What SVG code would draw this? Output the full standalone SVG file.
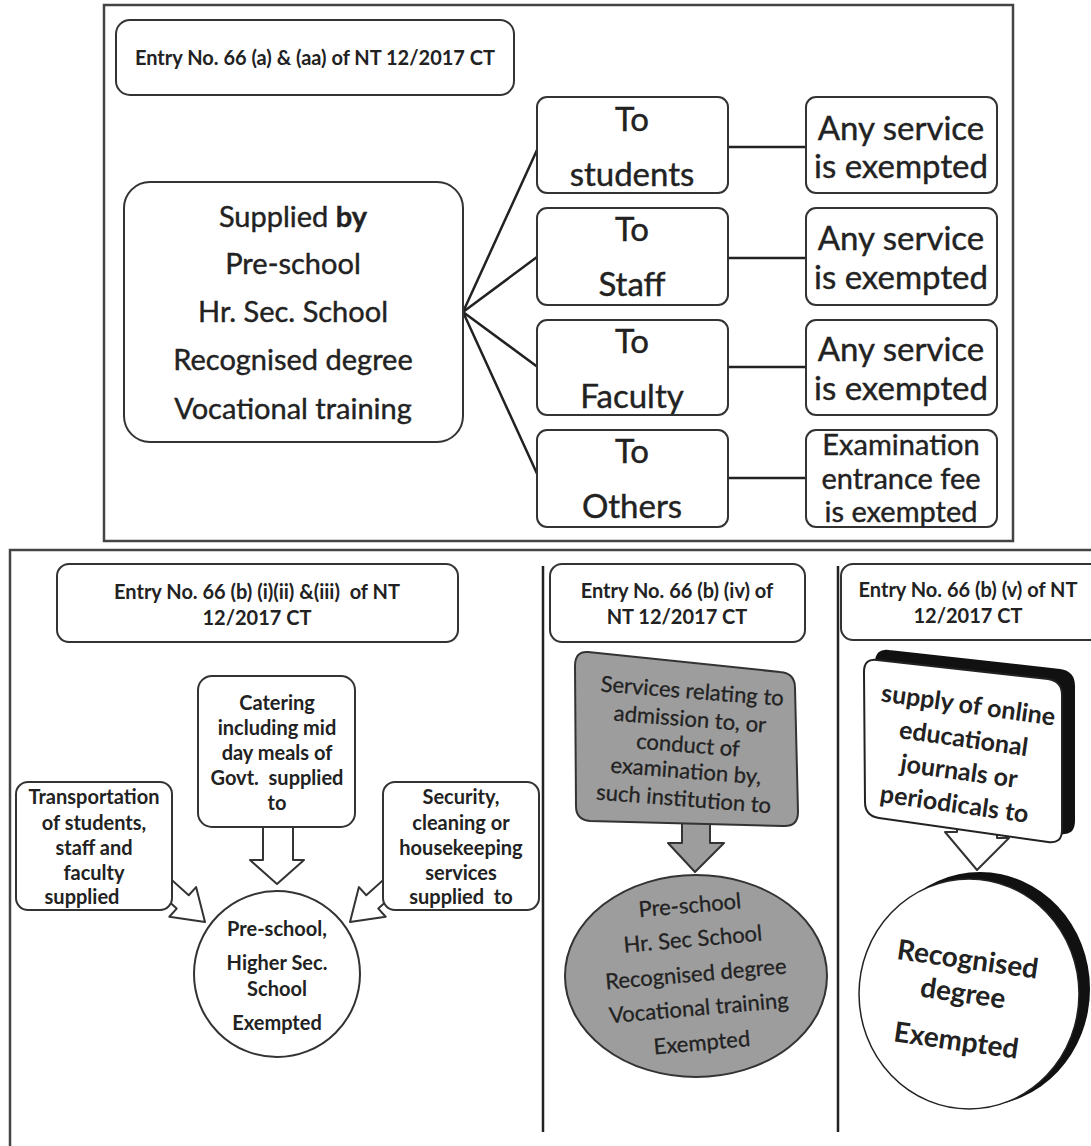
<svg xmlns="http://www.w3.org/2000/svg" width="1091" height="1146" viewBox="0 0 1091 1146">
<style>
text{font-family:Lato,"Open Sans","Liberation Sans",sans-serif;fill:#222;text-anchor:middle;dominant-baseline:central}
.box{fill:#fff;stroke:#333;stroke-width:2}
.panel{fill:none;stroke:#444;stroke-width:2.5}
.ln{stroke:#222;stroke-width:2.5;fill:none}
.big{font-size:33px;stroke:#222;stroke-width:0.4}
.mid{font-size:29px;stroke:#222;stroke-width:0.4}
.ent{font-size:20px;font-weight:bold}
.sm{font-size:20px;font-weight:bold}
.gr{font-size:22px;stroke:#222;stroke-width:0.3}
.hol{fill:#fff;stroke:#333;stroke-width:2;stroke-linejoin:round}
.gfill{fill:#9d9d9d;stroke:#333;stroke-width:2}
</style>
<rect class="panel" x="104" y="5" width="909" height="536"/>
<path class="panel" d="M10,1146 V550 H1091"/>
<line class="ln" x1="543" y1="566" x2="543" y2="1132" stroke-width="1.5"/>
<line class="ln" x1="838" y1="566" x2="838" y2="1132" stroke-width="1.5"/>

<g id="connectors">
<path class="ln" d="M463,312 L537,150 M463,312 L537,257 M463,312 L539,368 M463,312 L539,478"/>
<path class="ln" d="M728,147 H806 M728,258 H806 M728,367 H806 M728,478 H806"/>
<polygon class="hol" points="263,820 293,820 293,860 304,860 277,884 250,860 263,860"/>
<polygon class="hol" points="0,0 -30,-20 -30,-9 -75,-9 -75,9 -30,9 -30,20" transform="translate(205,922) rotate(42)"/>
<polygon class="hol" points="0,0 -30,-20 -30,-9 -75,-9 -75,9 -30,9 -30,20" transform="translate(350,922) rotate(138)"/>
<polygon class="gfill" points="682,820 710,820 710,843 724,843 695,872 668,843 682,843" stroke-linejoin="round"/>
<polygon class="hol" points="957,820 997,820 997,838 1009,838 977,870 945,832 957,832"/>
</g>

<g id="entry-a">
<rect class="box" x="116" y="20" width="398" height="75" rx="14"/>
<text class="ent" x="315" y="57">Entry No. 66 (a) &amp; (aa) of NT 12/2017 CT</text>
</g>
<g id="supplied">
<rect class="box" x="124" y="182" width="339" height="260" rx="26"/>
<text class="mid" x="293" y="215">Supplied <tspan font-weight="bold">by</tspan></text>
<text class="mid" x="293" y="262">Pre-school</text>
<text class="mid" x="293" y="310">Hr. Sec. School</text>
<text class="mid" x="293" y="358">Recognised degree</text>
<text class="mid" x="293" y="407">Vocational training</text>
</g>
<g id="to-students"><rect class="box" x="537" y="97" width="191" height="96" rx="10"/><text class="big" x="632" y="118">To</text><text class="big" x="632" y="173">students</text></g>
<g id="to-staff"><rect class="box" x="537" y="208" width="191" height="97" rx="10"/><text class="big" x="632" y="228">To</text><text class="big" x="632" y="283">Staff</text></g>
<g id="to-faculty"><rect class="box" x="537" y="320" width="191" height="95" rx="10"/><text class="big" x="632" y="340">To</text><text class="big" x="632" y="395">Faculty</text></g>
<g id="to-others"><rect class="box" x="537" y="430" width="191" height="97" rx="10"/><text class="big" x="632" y="450">To</text><text class="big" x="632" y="505">Others</text></g>
<g id="ex1"><rect class="box" x="806" y="97" width="191" height="96" rx="10"/><text class="big" x="901" y="127">Any service</text><text class="big" x="901" y="165">is exempted</text></g>
<g id="ex2"><rect class="box" x="806" y="208" width="191" height="97" rx="10"/><text class="big" x="901" y="237">Any service</text><text class="big" x="901" y="276">is exempted</text></g>
<g id="ex3"><rect class="box" x="806" y="320" width="191" height="95" rx="10"/><text class="big" x="901" y="348">Any service</text><text class="big" x="901" y="387">is exempted</text></g>
<g id="ex4"><rect class="box" x="806" y="430" width="191" height="97" rx="10"/><text class="mid" x="901" y="443">Examination</text><text class="mid" x="901" y="477">entrance fee</text><text class="mid" x="901" y="510">is exempted</text></g>

<g id="entry-b123">
<rect class="box" x="57" y="564" width="401" height="78" rx="12"/>
<text class="ent" x="257" y="591">Entry No. 66 (b) (i)(ii) &amp;(iii)&#160; of NT</text>
<text class="ent" x="257" y="617">12/2017 CT</text>
</g>
<g id="catering">
<rect class="box" x="198" y="676" width="157" height="151" rx="14"/>
<text class="sm" x="277" y="702">Catering</text>
<text class="sm" x="277" y="727">including mid</text>
<text class="sm" x="277" y="752">day meals of</text>
<text class="sm" x="277" y="777">Govt.&#160; supplied</text>
<text class="sm" x="277" y="802">to</text>
</g>
<g id="transport">
<rect class="box" x="16" y="782" width="156" height="128" rx="12"/>
<text class="sm" x="94" y="796">Transportation</text>
<text class="sm" x="94" y="822">of students,</text>
<text class="sm" x="94" y="847">staff and</text>
<text class="sm" x="94" y="872">faculty</text>
<text class="sm" x="82" y="896">supplied</text>
</g>
<g id="security">
<rect class="box" x="383" y="782" width="156" height="128" rx="12"/>
<text class="sm" x="461" y="796">Security,</text>
<text class="sm" x="461" y="822">cleaning or</text>
<text class="sm" x="461" y="847">housekeeping</text>
<text class="sm" x="461" y="872">services</text>
<text class="sm" x="461" y="896">supplied&#160; to</text>
</g>
<g id="circle-b">
<circle class="box" cx="277" cy="974" r="83"/>
<text class="sm" x="277" y="928">Pre-school,</text>
<text class="sm" x="277" y="962">Higher Sec.</text>
<text class="sm" x="277" y="988">School</text>
<text class="sm" x="277" y="1022">Exempted</text>
</g>

<g id="entry-b4">
<rect class="box" x="550" y="564" width="255" height="78" rx="12"/>
<text class="ent" x="677" y="590">Entry No. 66 (b) (iv) of</text>
<text class="ent" x="677" y="616">NT 12/2017 CT</text>
</g>
<g id="services">
<path class="gfill" d="M588,652 L780,672 Q795,673 795,688 L798,812 Q798,827 783,826 L590,821 Q576,820 576,806 L575,666 Q575,651 588,652 Z"/>
<g transform="rotate(4.5 688 745)">
<text class="gr" x="688" y="690">Services relating to</text>
<text class="gr" x="688" y="718">admission to, or</text>
<text class="gr" x="688" y="744">conduct of</text>
<text class="gr" x="688" y="770">examination by,</text>
<text class="gr" x="688" y="798">such institution to</text>
</g>
</g>
<g id="ellipse-b4">
<ellipse class="gfill" cx="696" cy="976" rx="131" ry="101"/>
<g transform="rotate(-5 696 976)">
<text class="gr" font-size="19" x="696" y="904">Pre-school</text>
<text class="gr" font-size="19" x="696" y="938">Hr. Sec School</text>
<text class="gr" font-size="19" x="696" y="973">Recognised degree</text>
<text class="gr" font-size="19" x="696" y="1007">Vocational training</text>
<text class="gr" font-size="19" x="696" y="1042">Exempted</text>
</g>
</g>

<g id="entry-b5">
<rect class="box" x="841" y="564" width="270" height="76" rx="12"/>
<text class="ent" x="968" y="589">Entry No. 66 (b) (v) of NT</text>
<text class="ent" x="968" y="615">12/2017 CT</text>
</g>
<g id="journals">
<path d="M877,660 L1048,679 Q1062,681 1062,695 L1062,830 Q1062,844 1048,842 L879,818 Q865,816 865,802 L864,672 Q864,658 877,660 Z" fill="#111" stroke="#111" stroke-width="2" transform="translate(12,-9)"/>
<path d="M877,660 L1048,679 Q1062,681 1062,695 L1062,830 Q1062,844 1048,842 L879,818 Q865,816 865,802 L864,672 Q864,658 877,660 Z" fill="#fff" stroke="#222" stroke-width="2"/>
<g transform="rotate(8 962 750)">
<text x="962" y="703" font-size="25" font-weight="bold">supply of online</text>
<text x="962" y="737" font-size="25" font-weight="bold">educational</text>
<text x="962" y="770" font-size="25" font-weight="bold">journals or</text>
<text x="962" y="803" font-size="25" font-weight="bold">periodicals to</text>
</g>
</g>
<g id="circle-b5">
<ellipse cx="980" cy="989" rx="110" ry="117" fill="#111"/>
<ellipse cx="969" cy="994" rx="110" ry="115" fill="#fff" stroke="#222" stroke-width="1.5"/>
<g transform="rotate(8 965 1000)">
<text x="962" y="958" font-size="28" font-weight="bold">Recognised</text>
<text x="962" y="992" font-size="28" font-weight="bold">degree</text>
<text x="962" y="1040" font-size="28" font-weight="bold">Exempted</text>
</g>
</g>
</svg>
